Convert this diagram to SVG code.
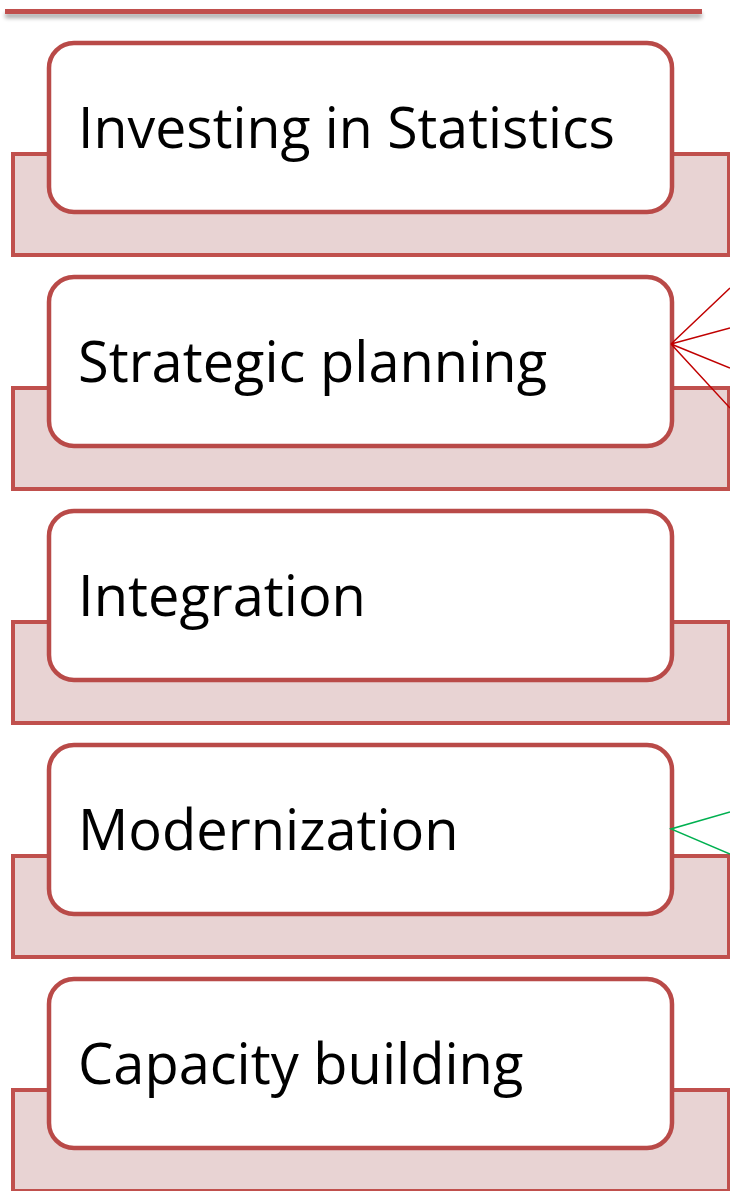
<svg xmlns="http://www.w3.org/2000/svg" width="730" height="1191" viewBox="0 0 730 1191">
<style>
.back{fill:#E8D3D3;stroke:#C0504D;stroke-width:4}
.front{fill:#FFFFFF;stroke:#B94A48;stroke-width:4.5}
.lbl{font-family:"Open Sans","Liberation Sans",sans-serif;font-size:56px;fill:#000}
.red{stroke:#C00000;stroke-width:1.5;fill:none}
.green{stroke:#00B050;stroke-width:1.5;fill:none}
</style>
<defs>
<filter id="sh" x="-5%" y="-200%" width="110%" height="500%">
<feGaussianBlur in="SourceAlpha" stdDeviation="2"/>
<feOffset dx="0" dy="4"/>
<feComponentTransfer><feFuncA type="linear" slope="0.35"/></feComponentTransfer>
<feMerge><feMergeNode/><feMergeNode in="SourceGraphic"/></feMerge>
</filter>
</defs>
<rect x="5" y="9" width="697" height="5" fill="#C0504D" filter="url(#sh)"/>
<g id="node1">
<rect class="back" x="13" y="154" width="716" height="101"/>
<rect class="front" x="49" y="43" width="623" height="169" rx="25"/>
<text class="lbl" x="78" y="148" textLength="537" lengthAdjust="spacingAndGlyphs">Investing in Statistics</text>
</g>
<g id="node2">
<rect class="back" x="13" y="388" width="716" height="101"/>
<rect class="front" x="49" y="277" width="623" height="169" rx="25"/>
<text class="lbl" x="78" y="382">Strategic planning</text>
</g>
<g id="node3">
<rect class="back" x="13" y="622" width="716" height="101"/>
<rect class="front" x="49" y="511" width="623" height="169" rx="25"/>
<text class="lbl" x="78" y="616">Integration</text>
</g>
<g id="node4">
<rect class="back" x="13" y="856" width="716" height="101"/>
<rect class="front" x="49" y="745" width="623" height="169" rx="25"/>
<text class="lbl" x="78" y="850">Modernization</text>
</g>
<g id="node5">
<rect class="back" x="13" y="1090" width="716" height="101"/>
<rect class="front" x="49" y="979" width="623" height="169" rx="25"/>
<text class="lbl" x="78" y="1084">Capacity building</text>
</g>
<g id="connectors">
<path class="red" d="M730 288 L671 344 M730 328 L671 344 M730 368 L671 344 M730 408 L671 344"/>
<path class="green" d="M730 812 L671 829 L730 854"/>
</g>
</svg>
